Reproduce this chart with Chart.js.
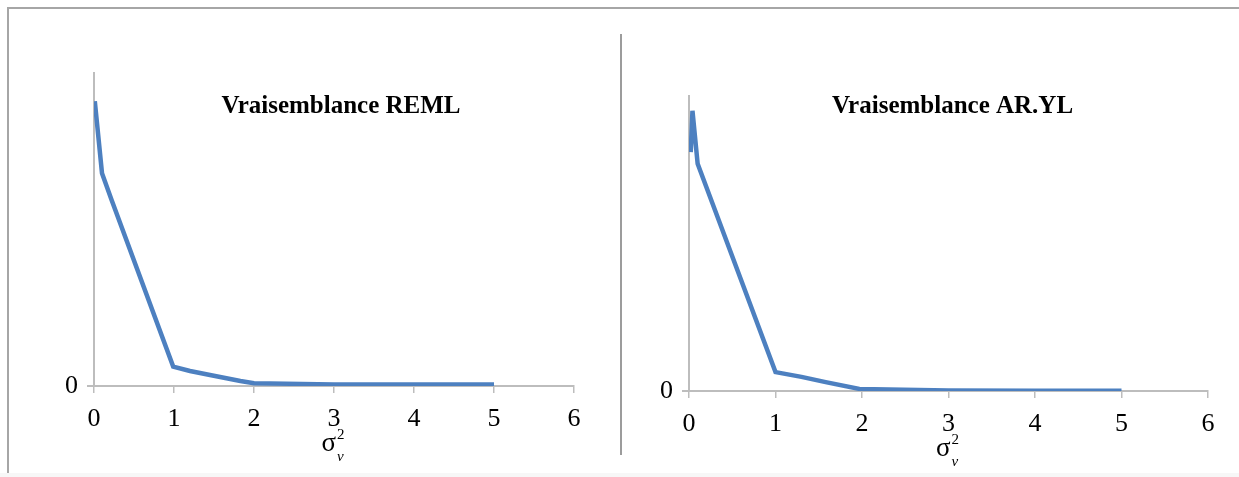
<!DOCTYPE html>
<html>
<head>
<meta charset="utf-8">
<script src="https://cdn.jsdelivr.net/npm/chart.js@4/dist/chart.umd.min.js"></script>
<style>
    html, body { margin: 0; padding: 0; background: #fff; }
    body { width: 1239px; height: 477px; position: relative; overflow: hidden; }
    .frame { position: absolute; left: 7px; top: 7px; right: 0; bottom: 4px; border-top: 2px solid #a6a6a6; border-left: 2px solid #a6a6a6; }
    .sep { position: absolute; left: 620px; top: 34px; width: 2px; height: 421px; background: #9c9c9c; }
    .band { position: absolute; left: 0; right: 0; top: 473px; bottom: 0; background: #f7f7f7; }
    .box { position: absolute; top: 0; height: 477px; }
    #left { left: 0; width: 620px; }
    #right { left: 622px; width: 617px; }
</style>
</head>
<body>
<div class="band"></div>
<div class="frame"></div>
<div class="sep"></div>
<div class="box" id="left"><canvas id="remlChart"></canvas></div>
<div class="box" id="right"><canvas id="arylChart"></canvas></div>
<script>
// ---- data ----
const xTicks = [0, 1, 2, 3, 4, 5, 6];
const yTicks = [0];

const remlX = [0.01, 0.1, 0.22, 0.99, 1.2, 1.45, 1.83, 2.0, 3.0, 4.0, 5.0];
const remlY = [0.91, 0.68, 0.594, 0.062, 0.048, 0.035, 0.016, 0.009, 0.005, 0.005, 0.005];

const arylX = [0.02, 0.04, 0.1, 1.0, 1.3, 1.58, 1.97, 3.0, 4.0, 5.0];
const arylY = [0.81, 0.95, 0.77, 0.064, 0.048, 0.03, 0.007, 0.002, 0.001, 0.001];

const titles = ['Vraisemblance REML', 'Vraisemblance AR.YL'];

const serif = '"Liberation Serif", "Times New Roman", serif';
const lineColor = '#4d80c0';
const axisColor = '#bdbdbd';

// titre + label sigma^2_v dessinés dans le canvas
const textPlugin = {
    id: 'panelText',
    afterDraw(chart, args, opts) {
        const ctx = chart.ctx;
        const area = chart.chartArea;
        const cx = (area.left + area.right) / 2;
        ctx.save();
        ctx.fillStyle = '#000';
        ctx.textBaseline = 'middle';
        ctx.textAlign = 'center';
        ctx.font = 'bold 25px ' + serif;
        ctx.fillText(opts.title, cx + opts.titleDx, area.top + opts.titleDy);

        // sigma, exposant 2, indice v
        const sy = area.bottom + 58;
        ctx.font = '27px ' + serif;
        ctx.textAlign = 'right';
        ctx.fillText('σ', cx + 2, sy);
        ctx.textAlign = 'left';
        ctx.font = '15px ' + serif;
        ctx.fillText('2', cx + 3, sy - 9);
        ctx.font = 'italic 15px ' + serif;
        ctx.fillText('v', cx + 3, sy + 13);
        ctx.restore();
    }
};

function makeChart(id, xs, ys, title, pad, titleDy, titleDx) {
    const points = xs.map((x, i) => ({ x: x, y: ys[i] }));
    return new Chart(document.getElementById(id), {
        type: 'line',
        data: {
            datasets: [{
                data: points,
                borderColor: lineColor,
                borderWidth: 4.5,
                pointRadius: 0,
                tension: 0,
                fill: false
            }]
        },
        options: {
            responsive: true,
            maintainAspectRatio: false,
            animation: false,
            layout: { padding: pad },
            plugins: {
                legend: { display: false },
                tooltip: { enabled: false },
                title: { display: false },
                panelText: { title: title, titleDy: titleDy, titleDx: titleDx }
            },
            scales: {
                x: {
                    type: 'linear',
                    min: 0,
                    max: 6,
                    afterBuildTicks: s => { s.ticks = xTicks.map(v => ({ value: v })); },
                    afterFit: s => { s.height = 50; },
                    grid: { drawOnChartArea: false, drawTicks: true, tickLength: 7, color: axisColor, lineWidth: 1.5 },
                    border: { display: true, color: axisColor, width: 2 },
                    ticks: { color: '#000', font: { family: serif, size: 26 }, padding: 11, maxRotation: 0 }
                },
                y: {
                    type: 'linear',
                    min: 0,
                    max: 1,
                    afterBuildTicks: s => { s.ticks = yTicks.map(v => ({ value: v })); },
                    afterFit: s => { s.width = 40; },
                    grid: { drawOnChartArea: false, drawTicks: true, tickLength: 7, color: axisColor, lineWidth: 2 },
                    border: { display: true, color: axisColor, width: 2 },
                    ticks: { color: '#000', font: { family: serif, size: 26 }, padding: 9 }
                }
            }
        },
        plugins: [textPlugin]
    });
}

makeChart('remlChart', remlX, remlY, titles[0], { left: 54, top: 73, right: 46, bottom: 41 }, 34, 7);
makeChart('arylChart', arylX, arylY, titles[1], { left: 27, top: 96, right: 31, bottom: 36 }, 11, 4);
</script>
</body>
</html>
